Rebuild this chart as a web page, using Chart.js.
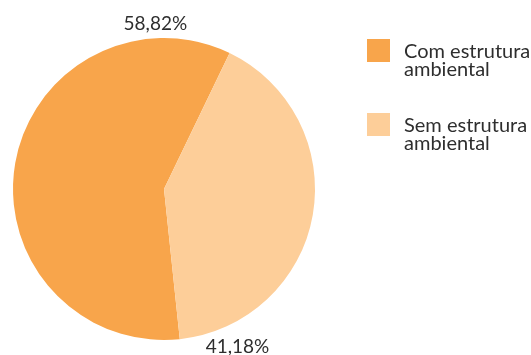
<!DOCTYPE html>
<html>
<head>
<meta charset="utf-8">
<script src="https://cdn.jsdelivr.net/npm/chart.js@4/dist/chart.umd.min.js"></script>
<style>
  html, body { margin: 0; padding: 0; background: #ffffff; }
  #wrap { width: 531px; height: 355px; position: relative; }
</style>
</head>
<body>
<div id="wrap"><canvas id="c"></canvas></div>
<script>
// Categories (legend text, one entry per line) and shares in percent
const categories = [["Com estrutura", "ambiental"], ["Sem estrutura", "ambiental"]];
const shares = [58.82, 41.18];
const valueLabels = ["58,82%", "41,18%"];
const sliceColors = ["#F8A54B", "#FDCE99"];

// Where each percentage sits: angle (deg, clockwise from 12 o'clock) and gap beyond the rim
const labelAngles = [-3, 155];
const labelGaps = [14, 23];

const FONT = "Lato, 'Open Sans', sans-serif";
const TEXT_COLOR = "#2e2e2e";

const pieExtras = {
  id: "pieExtras",
  afterDatasetsDraw(chart) {
    const ctx = chart.ctx;
    const arcs = chart.getDatasetMeta(0).data;
    ctx.save();
    ctx.fillStyle = TEXT_COLOR;
    ctx.font = "19px " + FONT;
    ctx.textAlign = "center";
    ctx.textBaseline = "middle";
    arcs.forEach((arc, i) => {
      const a = (labelAngles[i] - 90) * Math.PI / 180;
      const r = arc.outerRadius + labelGaps[i];
      ctx.fillText(valueLabels[i], arc.x + r * Math.cos(a), arc.y + r * Math.sin(a));
    });

    // legend on the right
    const boxX = 367, boxSize = 23, textX = 404;
    const firstTop = 39, itemStep = 74, lineStep = 18.5;
    ctx.font = "20px " + FONT;
    ctx.textAlign = "left";
    ctx.textBaseline = "alphabetic";
    categories.forEach((lines, i) => {
      const top = firstTop + i * itemStep;
      ctx.fillStyle = sliceColors[i];
      ctx.fillRect(boxX, top, boxSize, boxSize);
      ctx.fillStyle = TEXT_COLOR;
      lines.forEach((ln, j) => ctx.fillText(ln, textX, top + 18.5 + j * lineStep));
    });
    ctx.restore();
  }
};

new Chart(document.getElementById("c"), {
  type: "pie",
  data: {
    labels: categories,
    datasets: [{
      data: shares,
      backgroundColor: sliceColors,
      borderWidth: 0,
      hoverOffset: 0
    }]
  },
  options: {
    responsive: true,
    maintainAspectRatio: false,
    animation: false,
    rotation: 174,
    layout: { padding: { left: 13, right: 216, top: 38, bottom: 15 } },
    plugins: {
      legend: { display: false },
      tooltip: { enabled: false }
    }
  },
  plugins: [pieExtras]
});
</script>
</body>
</html>
